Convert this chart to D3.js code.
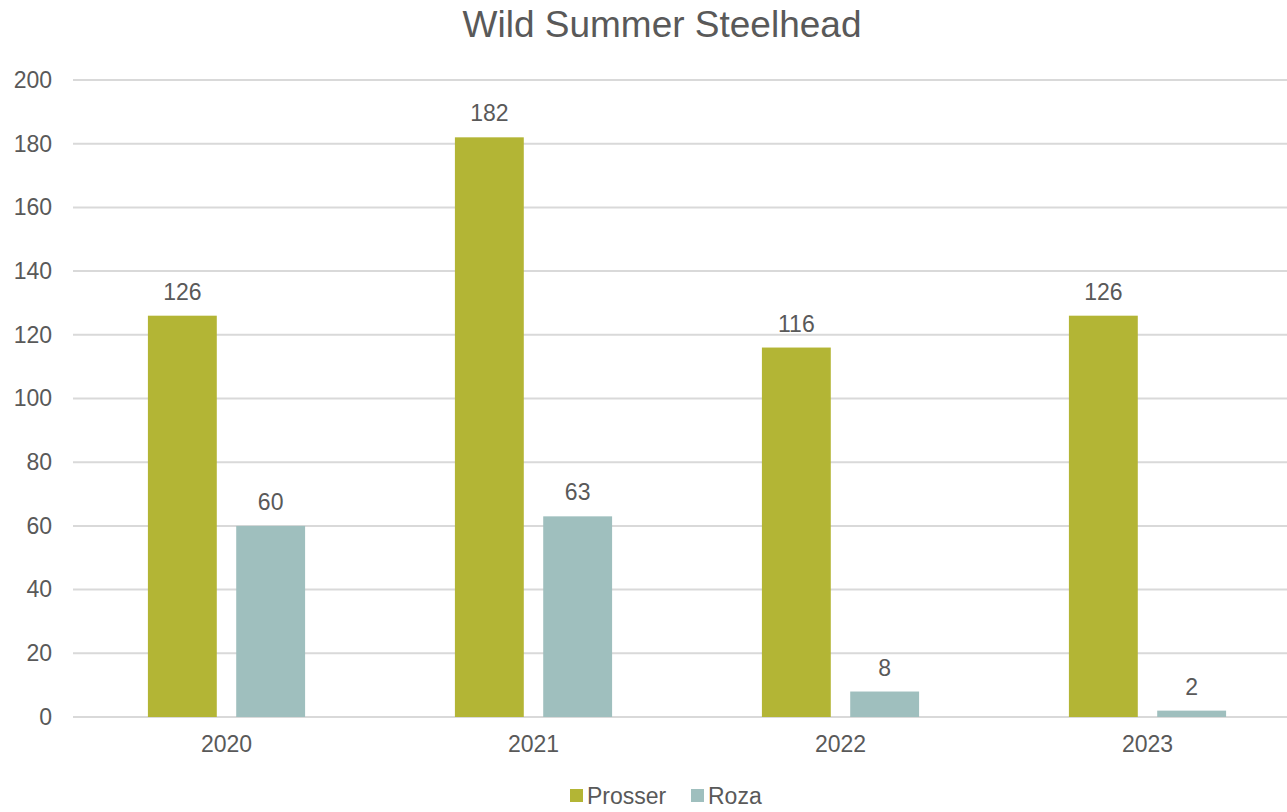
<!DOCTYPE html>
<html>
<head>
<meta charset="utf-8">
<script src="https://cdn.jsdelivr.net/npm/d3@7"></script>
<style>
  body { margin: 0; background: #fff; }
  text { font-family: "Liberation Sans", Arial, sans-serif; fill: #595959; }
</style>
</head>
<body>
<div id="chart"></div>
<script>
const years = ['2020', '2021', '2022', '2023']
const seriesNames = ['Prosser', 'Roza']
const prosser = [126, 182, 116, 126]
const roza = [60, 63, 8, 2]
const yTicks = [0, 20, 40, 60, 80, 100, 120, 140, 160, 180, 200]
const colors = ['#b3b535', '#9fbfbe']

const width = 1287
const height = 812

const data = years.map((y, i) => ({ year: y, values: [prosser[i], roza[i]] }))

const svg = d3.select('#chart').append('svg').attr('width', width).attr('height', height)

const x = d3.scaleBand().domain(years).range([73, 1301]).padding(0)
const bw = x.bandwidth()
const x1 = d3.scaleBand().domain(seriesNames).range([bw * 0.244, bw * 0.756]).paddingInner(0.22)
const y = d3.scaleLinear().domain([0, 200]).range([717, 80])

// gridlines
svg.append('g').selectAll('line').data(yTicks).enter().append('line')
  .attr('x1', 73).attr('x2', width)
  .attr('y1', d => y(d)).attr('y2', d => y(d))
  .attr('stroke', '#d9d9d9').attr('stroke-width', 2)

// y axis labels
const yAxis = d3.axisLeft(y).tickValues(yTicks).tickSize(0).tickPadding(0)
const yAxisGroup = svg.append('g').attr('transform', 'translate(52,0)').call(yAxis)
yAxisGroup.select('.domain').remove()
yAxisGroup.selectAll('.tick text')
  .attr('font-size', 23).attr('fill', '#595959')
  .attr('font-family', '"Liberation Sans", Arial, sans-serif')

// x axis labels
const xAxis = d3.axisBottom(x).tickSize(0).tickPadding(0)
const xAxisGroup = svg.append('g').attr('transform', 'translate(0,736)').call(xAxis)
xAxisGroup.select('.domain').remove()
xAxisGroup.selectAll('.tick text')
  .attr('font-size', 23).attr('fill', '#595959')
  .attr('font-family', '"Liberation Sans", Arial, sans-serif')

// bars
const groups = svg.append('g').selectAll('g').data(data).enter().append('g')
  .attr('transform', d => `translate(${x(d.year)},0)`)

groups.selectAll('rect')
  .data(d => d.values.map((v, i) => ({ name: seriesNames[i], value: v, i })))
  .enter().append('rect')
  .attr('x', d => x1(d.name))
  .attr('width', x1.bandwidth())
  .attr('y', d => y(d.value))
  .attr('height', d => y(0) - y(d.value))
  .attr('fill', d => colors[d.i])

groups.selectAll('text.label')
  .data(d => d.values.map((v, i) => ({ name: seriesNames[i], value: v })))
  .enter().append('text')
  .attr('class', 'label')
  .attr('x', d => x1(d.name) + x1.bandwidth() / 2)
  .attr('y', d => y(d.value) - 16)
  .attr('text-anchor', 'middle')
  .attr('font-size', 23)
  .text(d => d.value)

// title
svg.append('text')
  .attr('x', 662).attr('y', 37)
  .attr('text-anchor', 'middle')
  .attr('font-size', 37)
  .text('Wild Summer Steelhead')

// legend
const legendX = [570, 691]
const legend = svg.append('g').selectAll('g').data(seriesNames).enter().append('g')
  .attr('transform', (d, i) => `translate(${legendX[i]},789)`)
legend.append('rect').attr('width', 13).attr('height', 13).attr('fill', (d, i) => colors[i])
legend.append('text').attr('x', 17).attr('y', 15).attr('font-size', 23).text(d => d)
</script>
</body>
</html>
